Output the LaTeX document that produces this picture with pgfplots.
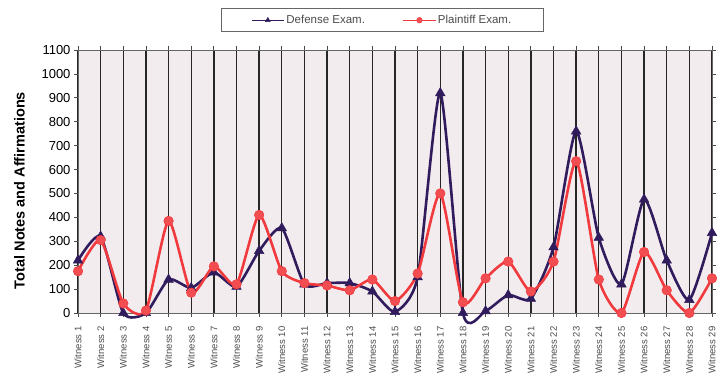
\documentclass[border=0pt]{standalone}
\usepackage{pgfplots}
\pgfplotsset{compat=1.18}
\usepackage{fontspec}
\setmainfont{Liberation Sans}
\definecolor{bgc}{RGB}{243,236,239}
\definecolor{navyc}{RGB}{48,28,92}
\definecolor{redc}{RGB}{240,58,62}
\pgfplotstableread{
x def pla
1 220 175
2 320 305
3 0 40
4 0 10
5 140 385
6 105 85
7 170 195
8 110 120
9 260 410
10 355 175
11 120 125
12 125 115
13 125 95
14 90 140
15 5 50
16 150 165
17 920 500
18 0 45
19 8 145
20 75 215
21 60 90
22 275 215
23 760 635
24 315 140
25 120 0
26 475 255
27 220 95
28 55 0
29 335 145
}\datatable
\begin{document}
\begin{tikzpicture}
\begin{axis}[
  scale only axis,
  width=634pt, height=263pt,
  xmin=1, xmax=29, ymin=0, ymax=1100,
  xtick={1,...,29},
  xticklabels={Witness 1,Witness 2,Witness 3,Witness 4,Witness 5,Witness 6,Witness 7,Witness 8,Witness 9,Witness 10,Witness 11,Witness 12,Witness 13,Witness 14,Witness 15,Witness 16,Witness 17,Witness 18,Witness 19,Witness 20,Witness 21,Witness 22,Witness 23,Witness 24,Witness 25,Witness 26,Witness 27,Witness 28,Witness 29},
  x tick label style={rotate=90, anchor=east, font=\fontsize{9.5}{10}\selectfont, text=black!70},
  xticklabel shift=6pt,
  ytick={0,100,...,1100},
  y tick label style={font=\fontsize{13}{13}\selectfont},
  /pgf/number format/assume math mode=true,
  /pgf/number format/1000 sep={},
  tick align=outside,
  major tick length=4pt,
  xmajorgrids,
  major grid style={black!85, line width=1.3pt},
  axis background/.style={fill=bgc},
  axis line style={black!60, line width=0.8pt},
  tick style={black!70, line width=0.8pt},
  clip=false,
  ylabel={\bfseries Total Notes and Affirmations},
  ylabel style={font=\fontsize{14.5}{15}\selectfont, yshift=10pt, xshift=-9pt},
  legend columns=2,
  legend style={at={(0.48,1.068)}, anchor=south, draw=black!60, line width=0.9pt,
    font=\fontsize{11.5}{12}\selectfont, text=black!70, fill=white,
    /tikz/every even column/.append style={column sep=36pt},
    inner xsep=30pt, inner ysep=4.5pt},
  legend cell align=left,
  legend image code/.code={\draw[#1, line width=1pt, mark size=2.8pt, mark repeat=2, mark phase=2]
    plot coordinates {(0pt,0pt)(16pt,0pt)(32pt,0pt)};},
]
\addplot[navyc, line width=2.6pt, smooth, tension=0.38, mark=triangle*, mark size=5.5pt,
  mark options={line width=0.5pt}] table[x=x, y=def] {\datatable};
\addlegendentry{Defense Exam.}
\addplot[redc, line width=2.6pt, smooth, tension=0.38, mark=*, mark size=4.8pt,
  mark options={line width=0.5pt, fill=redc!90!white}] table[x=x, y=pla] {\datatable};
\addlegendentry{Plaintiff Exam.}
\end{axis}
\pgfresetboundingbox
\path ([xshift=-78pt, yshift=-71pt]current axis.south west) rectangle ([xshift=7pt, yshift=50pt]current axis.north east);
\end{tikzpicture}
\end{document}
